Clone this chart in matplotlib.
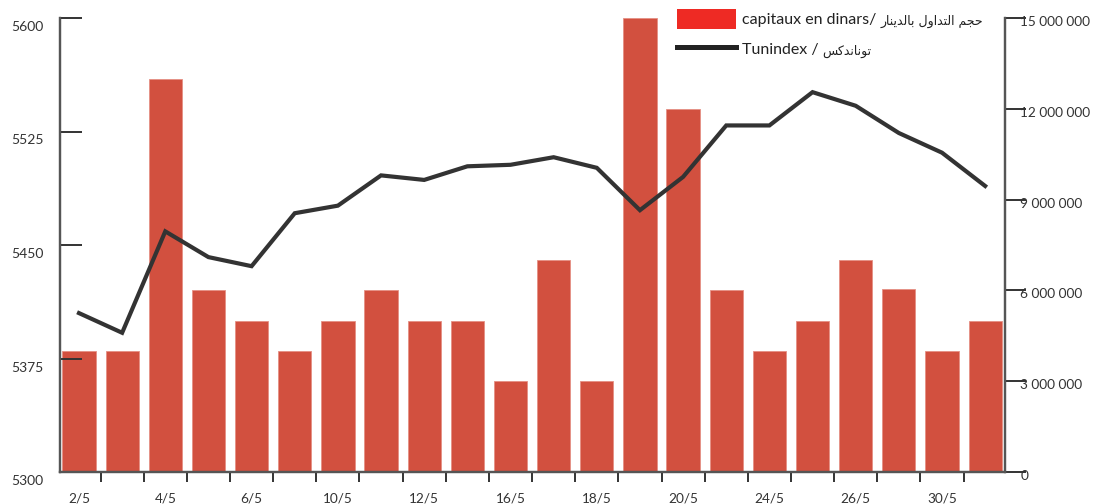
import numpy as np
import matplotlib
matplotlib.use('Agg')
import matplotlib.pyplot as plt
import matplotlib.transforms as mtransforms
from matplotlib.patches import Patch
from matplotlib.lines import Line2D

# data
tick_labels = ['2/5', '4/5', '6/5', '10/5', '12/5', '16/5', '18/5', '20/5', '24/5', '26/5', '30/5']
capitaux = [4000000, 4000000, 13000000, 6000000, 5000000, 4000000, 5000000, 6000000, 5000000, 5000000, 3000000,
            7000000, 3000000, 15000000, 12000000, 6000000, 4000000, 5000000, 7000000, 6050000, 4000000, 5000000]
tunindex = [5405, 5392, 5459, 5442, 5436, 5471, 5476, 5496, 5493, 5502, 5503,
            5508, 5501, 5473, 5495, 5529, 5529, 5551, 5542, 5524, 5511, 5489]
left_ticks = [5300, 5375, 5450, 5525, 5600]
right_ticks = [0, 3000000, 6000000, 9000000, 12000000, 15000000]

legend_fr = ['capitaux en dinars/', 'Tunindex /']
legend_ar = ['حجم التداول بالدينار', 'توناندكس']

# minimal arabic shaping (matplotlib has no bidi / shaping)
FORMS = {  # isolated, final, initial, medial
    'ا': (0xFE8D, 0xFE8E, None, None),
    'ب': (0xFE8F, 0xFE90, 0xFE91, 0xFE92),
    'ت': (0xFE95, 0xFE96, 0xFE97, 0xFE98),
    'ج': (0xFE9D, 0xFE9E, 0xFE9F, 0xFEA0),
    'ح': (0xFEA1, 0xFEA2, 0xFEA3, 0xFEA4),
    'د': (0xFEA9, 0xFEAA, None, None),
    'ر': (0xFEAD, 0xFEAE, None, None),
    'س': (0xFEB1, 0xFEB2, 0xFEB3, 0xFEB4),
    'ك': (0xFED9, 0xFEDA, 0xFEDB, 0xFEDC),
    'ل': (0xFEDD, 0xFEDE, 0xFEDF, 0xFEE0),
    'م': (0xFEE1, 0xFEE2, 0xFEE3, 0xFEE4),
    'ن': (0xFEE5, 0xFEE6, 0xFEE7, 0xFEE8),
    'و': (0xFEED, 0xFEEE, None, None),
    'ي': (0xFEF1, 0xFEF2, 0xFEF3, 0xFEF4),
}


def shape(text):
    out = []
    for i, c in enumerate(text):
        if c not in FORMS:
            out.append(c)
            continue
        prev = text[i - 1] if i > 0 else ' '
        nxt = text[i + 1] if i + 1 < len(text) else ' '
        join_prev = prev in FORMS and FORMS[prev][2] is not None
        join_next = nxt in FORMS and FORMS[c][2] is not None
        f = FORMS[c]
        if join_prev and join_next:
            code = f[3]
        elif join_prev:
            code = f[1]
        elif join_next:
            code = f[2]
        else:
            code = f[0]
        out.append(chr(code))
    return ''.join(out)[::-1]


plt.rcParams['font.family'] = ['Lato', 'DejaVu Sans']

bar_color = '#D2503F'
line_color = '#333333'
spine_color = '#555555'

fig = plt.figure(figsize=(10.98, 5.04), dpi=100)
ax = fig.add_axes([60/1098, 32/504, 945/1098, 454/504])
ax2 = ax.twinx()
ax.set_zorder(ax2.get_zorder() + 1)
ax.patch.set_visible(False)

x = np.arange(len(capitaux))
ax2.bar(x, capitaux, width=0.77, color=bar_color, edgecolor='#E59084', linewidth=0.6)
ax.plot(x, tunindex, color=line_color, lw=3.0, solid_joinstyle='miter')

ax.set_xlim(-0.44, len(x) - 0.54)
ax.set_ylim(5300, 5600)
ax2.set_ylim(0, 15000000)

for a in (ax, ax2):
    a.spines['top'].set_visible(False)
    for s in ('left', 'right', 'bottom'):
        a.spines[s].set_color(spine_color)
        a.spines[s].set_linewidth(1.6)

# left axis
ax.set_yticks(left_ticks)
ax.set_yticklabels([str(v) for v in left_ticks])
ax.tick_params(axis='y', direction='in', length=16, width=1.4, color='#333333', pad=12,
               labelsize=10, labelcolor='#333333')
off = mtransforms.ScaledTranslation(0, -0.08, fig.dpi_scale_trans)
for lab in ax.get_yticklabels():
    lab.set_transform(lab.get_transform() + off)

# right axis
ax2.set_yticks(right_ticks)
ax2.set_yticklabels(['{:,}'.format(v).replace(',', ' ') for v in right_ticks])
ax2.tick_params(axis='y', direction='out', length=15, width=1.4, color='#333333', pad=-4,
                labelsize=9.8, labelcolor='#333333')
off2 = mtransforms.ScaledTranslation(0, -0.03, fig.dpi_scale_trans)
for lab in ax2.get_yticklabels():
    lab.set_transform(lab.get_transform() + off2)

# x axis: tick marks between bars, labels every other bar
ax.set_xticks(np.arange(0.5, len(x) - 0.5, 1))
ax.set_xticklabels([])
ax.tick_params(axis='x', which='major', direction='out', length=7, width=1.4, color='#333333')
ax.set_xticks(np.arange(0, len(x), 2)[:len(tick_labels)], minor=True)
ax.set_xticklabels(tick_labels, minor=True)
ax.tick_params(axis='x', which='minor', length=0, pad=15, labelsize=9.8, labelcolor='#333333')
ax2.tick_params(axis='x', length=0)

handles = [Patch(facecolor='#EE2A24', edgecolor='none'),
           Line2D([0], [0], color='#222222', lw=3.6)]
leg = ax.legend(handles, legend_fr, loc='upper left', bbox_to_anchor=(677/1098, 1 - 9/504),
                bbox_transform=fig.transFigure, frameon=False, fontsize=11.5,
                handlelength=3.7, handleheight=1.55, handletextpad=0.35, labelspacing=0.62,
                borderpad=0, borderaxespad=0)
# arabic part, smaller, right after each french label (drawn after the legend)
for t, ar in zip(leg.get_texts(), legend_ar):
    t.set_color('#222222')
    ax.annotate(shape(ar), xy=(1, 0.5), xycoords=t, xytext=(3, -1), textcoords='offset points',
                ha='left', va='center', fontsize=9, family='DejaVu Sans', color='#222222',
                zorder=6)

fig.canvas.draw()
fig.savefig('out.png', dpi=100)
